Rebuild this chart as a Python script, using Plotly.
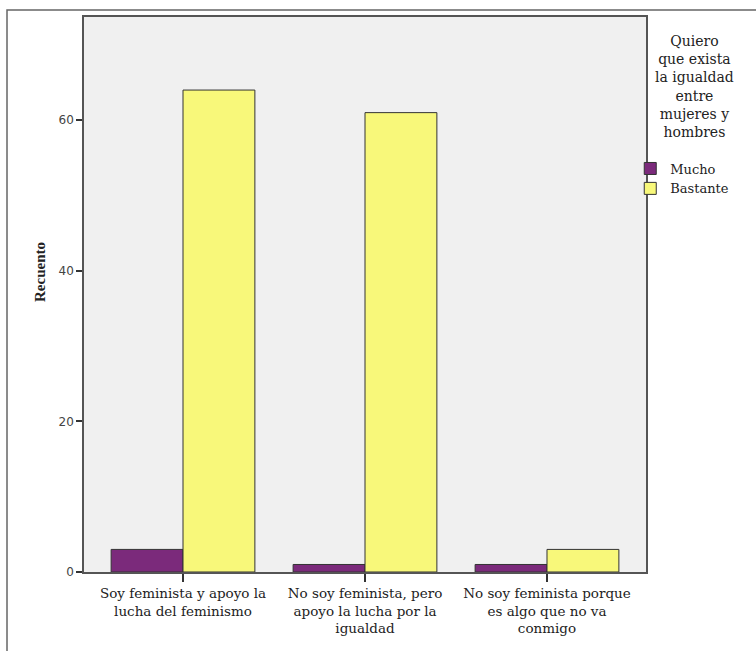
import plotly.graph_objects as go

categories = [
    "Soy feminista y apoyo la<br>lucha del feminismo",
    "No soy feminista, pero<br>apoyo la lucha por la<br>igualdad",
    "No soy feminista porque<br>es algo que no va<br>conmigo",
]
mucho = [3, 1, 1]
bastante = [64, 61, 3]
y_ticks = [0, 20, 40, 60]
legend_title = "Quiero<br>que exista<br>la igualdad<br>entre<br>mujeres y<br>hombres"

serif = "DejaVu Serif, serif"
sans = "DejaVu Sans, sans-serif"

fig = go.Figure()
fig.add_trace(go.Bar(x=categories, y=mucho, name="Mucho",
                     marker=dict(color="#7B2A7B", line=dict(color="#333333", width=1))))
fig.add_trace(go.Bar(x=categories, y=bastante, name="Bastante",
                     marker=dict(color="#F8F87A", line=dict(color="#333333", width=1))))

fig.update_layout(
    width=756, height=651,
    margin=dict(l=84, r=110, t=17, b=79, autoexpand=False),
    paper_bgcolor="white",
    plot_bgcolor="#F0F0F0",
    barmode="group",
    bargap=0.21,
    bargroupgap=0,
    showlegend=True,
    legend=dict(x=0.972, y=0.754, xanchor="left", yanchor="top",
                font=dict(family=serif, size=13, color="#222"),
                bgcolor="rgba(0,0,0,0)", tracegroupgap=0, itemwidth=30),
    xaxis=dict(range=[-0.544, 2.544], showline=True, mirror=True, linecolor="#555555", linewidth=1.5,
               ticks="outside", ticklen=8, tickcolor="#333", tickwidth=1.5, automargin=False,
               tickfont=dict(family=serif, size=13.5, color="#222"), showgrid=False, zeroline=False),
    yaxis=dict(range=[0, 73.7], showline=True, mirror=True, linecolor="#555555", linewidth=1.5,
               tickvals=y_ticks, ticks="outside", ticklen=6, tickcolor="#333", tickwidth=1.5, automargin=False,
               tickfont=dict(family=sans, size=12, color="#444"), showgrid=False, zeroline=False),
    annotations=[
        dict(text=legend_title, xref="paper", yref="paper", x=1.086, y=0.975,
             xanchor="center", yanchor="top", showarrow=False, align="center",
             font=dict(family=serif, size=14, color="#222")),
        dict(text="<b>Recuento</b>", xref="paper", yref="paper", x=(40 - 84) / 562, y=(572 - 272) / 555,
             xanchor="center", yanchor="middle", showarrow=False, textangle=-90,
             font=dict(family="Liberation Serif, serif", size=15, color="#222")),
    ],
    shapes=[dict(type="rect", xref="paper", yref="paper", x0=-0.137, x1=1.21, y0=-0.16, y1=1.0126,
                 line=dict(color="#666666", width=1.5), fillcolor="rgba(0,0,0,0)", layer="below")],
)

fig.write_html("out.html", config={"displayModeBar": False},
               post_script="document.body.style.margin='0';")
